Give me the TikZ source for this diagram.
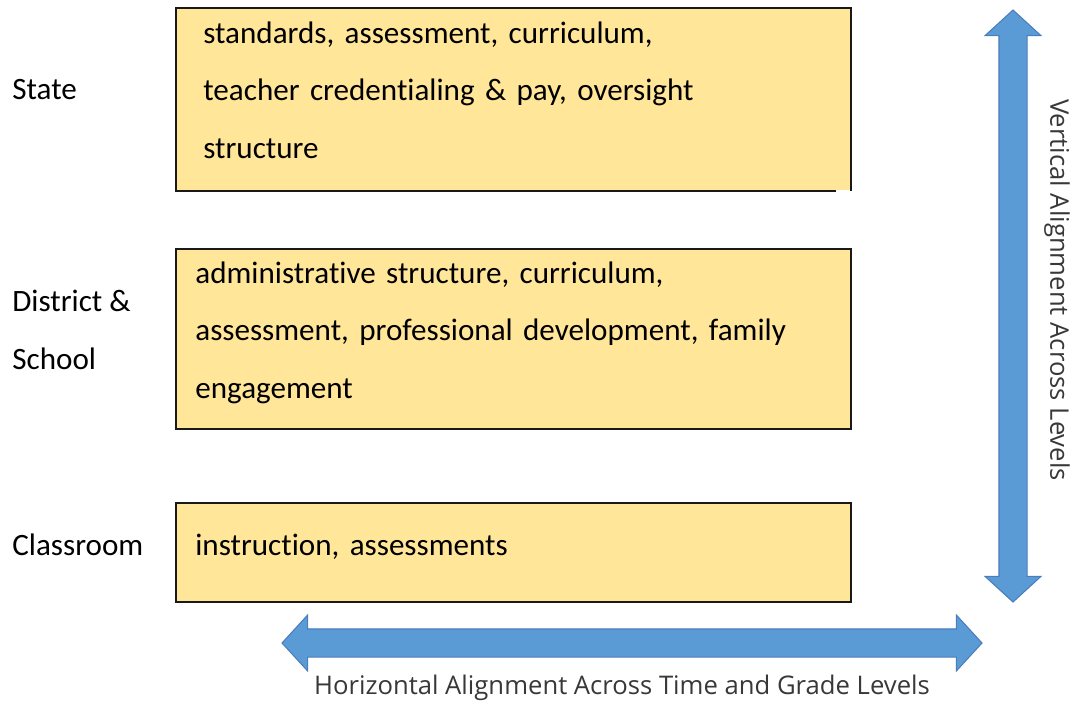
\documentclass[tikz,border=0pt]{standalone}
\usepackage{fontspec}
\setmainfont[RawFeature=-liga]{Carlito}
\newfontfamily\axisfont{Open Sans}
\usetikzlibrary{shapes.arrows}

\definecolor{boxfill}{HTML}{FFE699}
\definecolor{arrowfill}{HTML}{5B9BD5}
\definecolor{arrowline}{HTML}{4A7EBB}
\definecolor{axistext}{HTML}{383838}

\begin{document}
\begin{tikzpicture}[
    level/.style={fill=boxfill, anchor=north west, inner sep=0pt},
    levelinfo/.style={anchor=base west, inner sep=0pt, text width=12.4cm, align=left, font=\fontsize{17.7}{33}\selectfont},
    edge/.style={draw=black!90, line width=1.1pt},
    tag/.style={anchor=west, align=left, inner sep=0pt, font=\fontsize{17.7}{33}\selectfont},
    biarrow/.style={double arrow, fill=arrowfill, draw=arrowline, line width=0.6pt, inner xsep=0pt, inner ysep=0.27cm,
        minimum width=1.1cm, double arrow head extend=0.28cm, double arrow tip angle=95},
    axislabel/.style={text=axistext, inner sep=0pt, font=\axisfont\fontsize{14.6}{16}\selectfont}
]
    \useasboundingbox (0,0) rectangle (21.5,-14.08);

    % level boxes
    \node[level, minimum width=13.48cm, minimum height=3.64cm] (state) at (3.52,-0.16) {};
    \node[level, edge, minimum width=13.5cm, minimum height=3.6cm] (district) at (3.5,-4.96) {};
    \node[level, edge, minimum width=13.5cm, minimum height=1.98cm] (classroom) at (3.5,-10.04) {};

    % state box border, bottom edge stops short
    \draw[edge] ([xshift=-0.3cm]state.south east) -- (state.south west) -- (state.north west)
        -- (state.north east) -- (state.south east);

    % what each level covers
    \node[levelinfo] (stateinfo) at ([shift={(0.54,-0.7)}]state.north west)
        {standards, assessment, curriculum,\\teacher credentialing \& pay, oversight\\structure};
    \node[levelinfo] (districtinfo) at ([shift={(0.4,-0.7)}]district.north west)
        {administrative structure, curriculum,\\assessment, professional development, family\\engagement};
    \node[levelinfo] (classroominfo) at ([shift={(0.4,-1.06)}]classroom.north west)
        {instruction, assessments};

    % level names
    \node[tag] (statename) at (0.24,-1.8) {State};
    \node[tag] (districtname) at (0.24,-6.6) {District \&\\School};
    \node[tag] (classroomname) at (0.24,-10.9) {Classroom};

    % alignment arrows
    \node[biarrow, minimum height=11.84cm, rotate=90] (vert) at (20.26,-6.12) {};
    \node[biarrow, minimum height=14cm] (horiz) at (12.64,-12.86) {};

    \node[axislabel, rotate=-90] (vertlabel) at (21.14,-5.8) {Vertical Alignment Across Levels};
    \node[axislabel] (horizlabel) at (12.44,-13.76) {Horizontal Alignment Across Time and Grade Levels};
\end{tikzpicture}
\end{document}
